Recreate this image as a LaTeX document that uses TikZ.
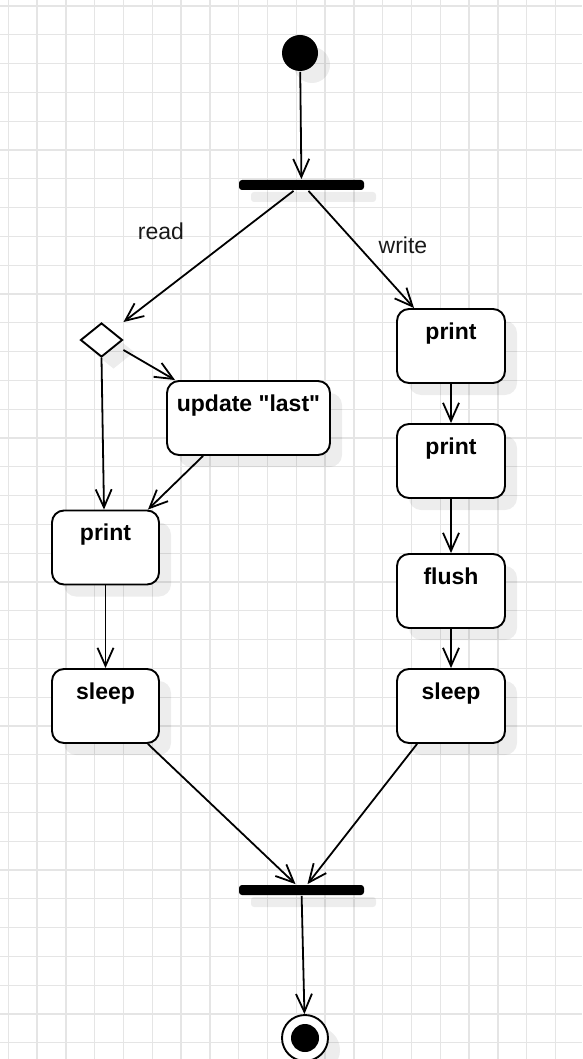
\documentclass[tikz,border=0pt]{standalone}
\usepackage{fontspec}
\setmainfont{Liberation Sans}[Ligatures=TeXOff]
\usetikzlibrary{arrows.meta,shapes.geometric,shadows}

\begin{document}
\begin{tikzpicture}[x=1pt, y=-1pt,
    %Option for open arrows
    >={Straight Barb[length=18pt,width=16pt]}, %
    line width=1.8pt,
    gridline/.style={line width=1.3pt, color=gridgray},
    shadowed/.style={drop shadow={shadow xshift=12pt, shadow yshift=-12pt, fill=black, opacity=0.07}},
    action/.style={draw, line width=1.9pt, rounded corners=12pt, fill=white, shadowed,
        minimum width=108pt, minimum height=74pt, inner ysep=0pt, text height=30pt, text depth=44pt,
        font=\fontsize{23}{28}\selectfont\bfseries},
    bar/.style={fill=black, rounded corners=3pt, minimum width=125pt, minimum height=10pt, inner sep=0pt, shadowed},
    guard/.style={text=black!90, font=\fontsize{23}{28}\selectfont},
]
    % Colors
    \colorlet{gridgray}{black!10}

    % Frame
    \useasboundingbox (0,0) rectangle (582,1059);
    \fill[white] (0,0) rectangle (582,1059);
    \foreach \i in {0,...,19}
        \draw[gridline] ({8.3+28.8*\i},0) -- ({8.3+28.8*\i},1059);
    \foreach \j in {0,...,36}
        \draw[gridline] (0,{6+28.8*\j}) -- (582,{6+28.8*\j});

    % Start and fork
    \node[circle, fill=black, minimum size=36pt, inner sep=0pt, shadowed] (start) at (300,53) {};
    \node[bar] (fork) at (301.5,185) {};

    % Read branch
    \node[diamond, draw, line width=1.9pt, fill=white, minimum width=42pt, minimum height=34pt,
        inner sep=0pt, shadowed] (dec) at (101.5,340) {};
    \node[action, minimum width=163pt] (upd) at (248.5,418) {update "last"};
    \node[action, minimum width=107pt] (lprint) at (105.5,547.5) {print};
    \node[action, minimum width=107pt] (lsleep) at (105.5,706) {sleep};

    % Write branch
    \node[action] (wprint) at (451,346) {print};
    \node[action] (wprintb) at (451,461) {print};
    \node[action] (flush) at (451,591) {flush};
    \node[action] (wsleep) at (451,706) {sleep};

    % Join and end
    \node[bar] (join) at (301.5,890) {};
    \node[circle, draw, line width=1.9pt, fill=white, minimum size=46pt, inner sep=0pt, shadowed] (end) at (305,1038) {};
    \node[circle, fill=black, minimum size=28pt, inner sep=0pt] (enddot) at (end.center) {};

    % Guards
    \node[guard] (read) at (161,231) {read};
    \node[guard] (write) at (403,245) {write};

    % Transitions
    \draw[->] (start) -- (fork);
    \draw[->] ([xshift=-8pt]fork.south) -- (dec.north -| dec.east);
    \draw[->] ([xshift=7pt]fork.south) -- ([xshift=18pt]wprint.north west);
    \draw[->] ([yshift=-10pt]dec.east) -- ([xshift=9pt]upd.north west);
    \draw[->] (dec.south) -- ([xshift=-1.5pt]lprint.north);
    \draw[->] ([xshift=37pt]upd.south west) -- ([xshift=-12pt]lprint.north east);
    \draw[->] (lprint) -- (lsleep);
    \foreach \a/\b in {wprint/wprintb, wprintb/flush, flush/wsleep}
        \draw[->] (\a) -- (\b);
    \draw[->] ([xshift=-12pt]lsleep.south east) -- ([xshift=-6pt]join.north);
    \draw[->] ([xshift=21pt]wsleep.south west) -- ([xshift=6pt]join.north);
    \draw[->] (join) -- (end);
\end{tikzpicture}
\end{document}
